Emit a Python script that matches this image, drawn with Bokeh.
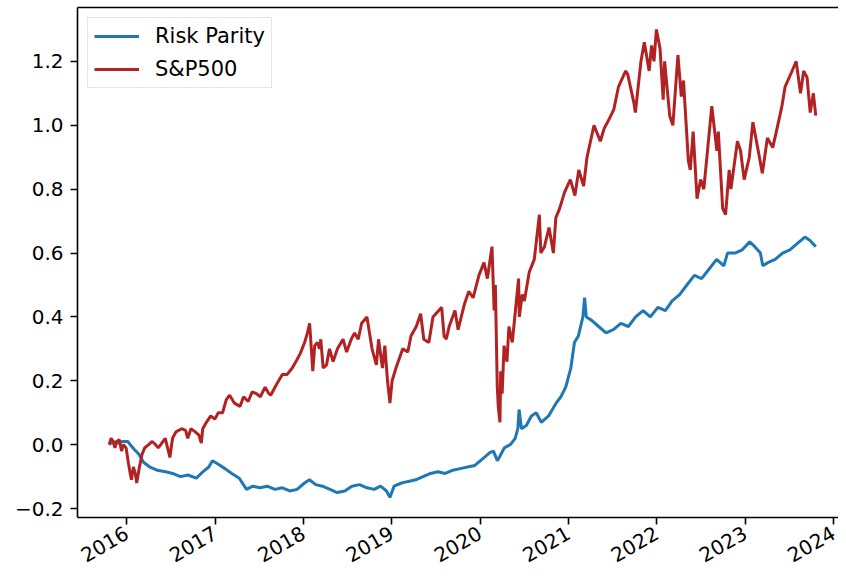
import math
import pandas as pd
from bokeh.plotting import figure
from bokeh.models import Range1d, FixedTicker, CustomJSTickFormatter, Legend, LegendItem, LinearAxis
from bokeh.embed import file_html
from bokeh.resources import INLINE

# ---------------- data ----------------
sp_dates = [
    "2015-10-20", "2015-10-28", "2015-11-05", "2015-11-13", "2015-11-20", "2015-12-01",
    "2015-12-10", "2015-12-18", "2015-12-29", "2016-01-08", "2016-01-15", "2016-01-20",
    "2016-01-28", "2016-02-05", "2016-02-11", "2016-02-22", "2016-03-04", "2016-03-15",
    "2016-03-31", "2016-04-15", "2016-04-29", "2016-05-10", "2016-05-20", "2016-06-08",
    "2016-06-24", "2016-06-27", "2016-07-08", "2016-07-22", "2016-08-15", "2016-08-31",
    "2016-09-09", "2016-09-22", "2016-10-10", "2016-10-25", "2016-11-04", "2016-11-10",
    "2016-11-25", "2016-12-13", "2016-12-30", "2017-01-13", "2017-01-31", "2017-02-15",
    "2017-03-01", "2017-03-21", "2017-04-13", "2017-04-28", "2017-05-17", "2017-06-02",
    "2017-06-20", "2017-07-06", "2017-07-26", "2017-08-10", "2017-08-18", "2017-09-12",
    "2017-10-05", "2017-10-25", "2017-11-15", "2017-12-04", "2017-12-18", "2018-01-05",
    "2018-01-17", "2018-01-26", "2018-02-08", "2018-02-16", "2018-02-27", "2018-03-08",
    "2018-03-13", "2018-03-23", "2018-04-06", "2018-04-18", "2018-05-03", "2018-05-21",
    "2018-06-13", "2018-06-28", "2018-07-17", "2018-07-31", "2018-08-15", "2018-08-29",
    "2018-09-20", "2018-10-11", "2018-10-29", "2018-11-07", "2018-11-23", "2018-12-03",
    "2018-12-14", "2018-12-24", "2019-01-02", "2019-01-18", "2019-02-15", "2019-03-08",
    "2019-03-21", "2019-04-12", "2019-04-30", "2019-05-13", "2019-06-03", "2019-06-20",
    "2019-07-26", "2019-08-05", "2019-08-14", "2019-08-26", "2019-09-19", "2019-10-02",
    "2019-10-28", "2019-11-15", "2019-12-03", "2019-12-27", "2020-01-17", "2020-01-31",
    "2020-02-19", "2020-02-28", "2020-03-04", "2020-03-12", "2020-03-16", "2020-03-23",
    "2020-03-26", "2020-04-01", "2020-04-09", "2020-04-21", "2020-04-29", "2020-05-13",
    "2020-06-08", "2020-06-11", "2020-06-23", "2020-07-02", "2020-07-22", "2020-08-12",
    "2020-09-02", "2020-09-08", "2020-09-23", "2020-10-12", "2020-10-30", "2020-11-09",
    "2020-11-25", "2020-12-15", "2021-01-08", "2021-01-27", "2021-02-12", "2021-03-04",
    "2021-03-18", "2021-04-16", "2021-05-12", "2021-05-28", "2021-06-18", "2021-07-07",
    "2021-07-26", "2021-08-25", "2021-09-02", "2021-09-28", "2021-10-04", "2021-10-27",
    "2021-11-10", "2021-11-30", "2021-12-10", "2021-12-20", "2021-12-30", "2022-01-14",
    "2022-01-27", "2022-02-02", "2022-02-23", "2022-03-08", "2022-03-29", "2022-04-12",
    "2022-04-21", "2022-05-11", "2022-05-19", "2022-05-31", "2022-06-16", "2022-07-01",
    "2022-07-14", "2022-08-16", "2022-09-06", "2022-09-12", "2022-09-30", "2022-10-12",
    "2022-10-27", "2022-11-03", "2022-11-30", "2022-12-13", "2022-12-28", "2023-01-18",
    "2023-02-02", "2023-02-24", "2023-03-13", "2023-04-03", "2023-04-25", "2023-05-10",
    "2023-06-02", "2023-06-15", "2023-07-14", "2023-07-31", "2023-08-18", "2023-08-31",
    "2023-09-14", "2023-09-27", "2023-10-10", "2023-10-20",
]
sp_values = [
    0.00, 0.02, 0.01, -0.01, 0.01, 0.015,
    -0.02, 0.00, -0.01, -0.06, -0.09, -0.11,
    -0.07, -0.09, -0.12, -0.07, -0.03, -0.01,
    0.00, 0.01, 0.00, -0.01, 0.00, 0.02,
    -0.03, -0.04, 0.02, 0.04, 0.05, 0.045,
    0.02, 0.05, 0.04, 0.03, 0.005, 0.05,
    0.07, 0.09, 0.08, 0.10, 0.10, 0.14,
    0.155, 0.13, 0.12, 0.15, 0.135, 0.165,
    0.16, 0.15, 0.18, 0.16, 0.155, 0.19,
    0.22, 0.22, 0.24, 0.265, 0.285, 0.32,
    0.35, 0.38, 0.23, 0.31, 0.32, 0.30,
    0.33, 0.24, 0.25, 0.30, 0.26, 0.30,
    0.33, 0.29, 0.33, 0.35, 0.33, 0.38,
    0.40, 0.30, 0.25, 0.33, 0.24, 0.31,
    0.20, 0.13, 0.20, 0.24, 0.30, 0.29,
    0.34, 0.37, 0.41, 0.33, 0.32, 0.40,
    0.43, 0.34, 0.33, 0.37, 0.42, 0.36,
    0.44, 0.48, 0.46, 0.53, 0.57, 0.52,
    0.62, 0.42, 0.50, 0.18, 0.12, 0.07,
    0.23, 0.16, 0.31, 0.26, 0.37, 0.32,
    0.52, 0.40, 0.47, 0.45, 0.54, 0.58,
    0.72, 0.60, 0.62, 0.68, 0.60, 0.71,
    0.74, 0.79, 0.83, 0.78, 0.86, 0.81,
    0.90, 1.00, 0.95, 0.99, 1.02, 1.05,
    1.12, 1.17, 1.16, 1.07, 1.04, 1.20,
    1.26, 1.17, 1.25, 1.20, 1.30, 1.24,
    1.08, 1.20, 1.03, 1.00, 1.22, 1.09,
    1.14, 0.89, 0.86, 0.98, 0.77, 0.83,
    0.80, 1.06, 0.92, 0.98, 0.74, 0.72,
    0.86, 0.80, 0.95, 0.92, 0.83, 0.90,
    1.01, 0.92, 0.85, 0.96, 0.93, 0.98,
    1.06, 1.12, 1.17, 1.20, 1.10, 1.17,
    1.15, 1.04, 1.10, 1.03,
]

rp_dates = [
    "2015-10-20", "2015-11-05", "2015-11-25", "2015-12-15", "2016-01-05", "2016-01-15",
    "2016-02-01", "2016-02-20", "2016-03-10", "2016-04-05", "2016-05-05", "2016-06-10",
    "2016-07-08", "2016-08-10", "2016-09-10", "2016-10-14", "2016-11-10", "2016-12-05",
    "2016-12-20", "2017-01-10", "2017-02-10", "2017-03-10", "2017-04-10", "2017-05-10",
    "2017-06-05", "2017-07-05", "2017-08-03", "2017-09-05", "2017-10-05", "2017-11-05",
    "2017-12-05", "2018-01-05", "2018-01-25", "2018-02-20", "2018-03-20", "2018-04-20",
    "2018-05-20", "2018-06-20", "2018-07-20", "2018-08-20", "2018-09-20", "2018-10-20",
    "2018-11-15", "2018-12-10", "2018-12-24", "2019-01-10", "2019-02-10", "2019-03-10",
    "2019-04-10", "2019-05-10", "2019-06-10", "2019-07-10", "2019-08-10", "2019-09-10",
    "2019-10-10", "2019-11-10", "2019-12-10", "2020-01-10", "2020-02-10", "2020-02-25",
    "2020-03-12", "2020-03-20", "2020-04-10", "2020-05-05", "2020-05-25", "2020-06-05",
    "2020-06-10", "2020-06-20", "2020-07-10", "2020-07-31", "2020-08-20", "2020-09-10",
    "2020-10-10", "2020-11-10", "2020-11-30", "2020-12-20", "2021-01-10", "2021-01-25",
    "2021-02-10", "2021-03-01", "2021-03-08", "2021-03-15", "2021-04-05", "2021-05-05",
    "2021-06-05", "2021-07-05", "2021-08-05", "2021-09-05", "2021-10-05", "2021-11-05",
    "2021-12-05", "2022-01-05", "2022-02-05", "2022-03-05", "2022-04-05", "2022-05-05",
    "2022-06-05", "2022-07-05", "2022-08-05", "2022-09-05", "2022-10-05", "2022-10-20",
    "2022-11-20", "2022-12-20", "2023-01-20", "2023-02-10", "2023-03-05", "2023-03-15",
    "2023-04-05", "2023-05-05", "2023-06-05", "2023-07-05", "2023-08-05", "2023-09-05",
    "2023-09-25", "2023-10-20",
]
rp_values = [
    0.00, 0.01, 0.005, 0.01, 0.01, 0.00,
    -0.015, -0.03, -0.055, -0.07, -0.08, -0.085,
    -0.09, -0.10, -0.095, -0.105, -0.085, -0.07,
    -0.05, -0.06, -0.075, -0.09, -0.105, -0.14,
    -0.13, -0.135, -0.13, -0.14, -0.135, -0.145,
    -0.14, -0.12, -0.11, -0.125, -0.13, -0.14,
    -0.15, -0.145, -0.13, -0.125, -0.135, -0.14,
    -0.13, -0.145, -0.165, -0.13, -0.12, -0.115,
    -0.11, -0.10, -0.09, -0.085, -0.09, -0.08,
    -0.075, -0.07, -0.065, -0.045, -0.025, -0.02,
    -0.05, -0.04, -0.01, 0.00, 0.02, 0.05,
    0.11, 0.05, 0.06, 0.09, 0.10, 0.07,
    0.09, 0.13, 0.15, 0.18, 0.24, 0.32,
    0.34, 0.40, 0.46, 0.40, 0.39, 0.37,
    0.35, 0.36, 0.38, 0.37, 0.40, 0.42,
    0.40, 0.43, 0.42, 0.45, 0.47, 0.50,
    0.53, 0.52, 0.55, 0.58, 0.56, 0.60,
    0.60, 0.61, 0.635, 0.62, 0.60, 0.56,
    0.57, 0.58, 0.60, 0.61, 0.63, 0.65,
    0.64, 0.62,
]

year_ticks = [2016, 2017, 2018, 2019, 2020, 2021, 2022, 2023, 2024]
y_ticks = [-0.2, 0.0, 0.2, 0.4, 0.6, 0.8, 1.0, 1.2]

# ---------------- figure ----------------
def ms(ts):
    return pd.Timestamp(ts).value / 1e6

x_start = ms("2015-06-11")
x_end = ms("2024-01-22")

p = figure(width=838, height=572, x_axis_type="datetime",
           x_range=Range1d(x_start, x_end), y_range=Range1d(-0.228, 1.36875),
           output_backend="svg", toolbar_location=None,
           min_border_left=77, min_border_right=0, min_border_top=7, min_border_bottom=54)

p.background_fill_color = "white"
p.border_fill_color = "white"
p.xgrid.visible = False
p.ygrid.visible = False
p.outline_line_color = None

xa = p.below[0]
ya = p.left[0]

for ax in (xa, ya):
    ax.axis_line_color = "black"
    ax.axis_line_width = 1.6
    ax.major_tick_line_color = "black"
    ax.major_tick_line_width = 1.6
    ax.major_tick_out = 7
    ax.major_tick_in = 0
    ax.minor_tick_line_color = None
    ax.major_label_text_font = "DejaVu Sans"
    ax.major_label_text_font_size = "20px"
    ax.major_label_text_color = "#000000"
    ax.major_label_standoff = 7

xa.ticker = FixedTicker(ticks=[ms(f"{y}-01-01") for y in year_ticks])
xa.formatter = CustomJSTickFormatter(code="return String(new Date(tick).getUTCFullYear());")
xa.major_label_orientation = math.pi / 6

ya.ticker = FixedTicker(ticks=y_ticks)
ya.formatter = CustomJSTickFormatter(
    code="return (tick < -1e-9 ? '\u2212' : '') + Math.abs(tick).toFixed(1);")

# top spine only (the right spine lies outside the visible area in the reference)
top_axis = LinearAxis(ticker=FixedTicker(ticks=[]),
                      axis_line_color="black", axis_line_width=1.6,
                      major_tick_line_color=None, minor_tick_line_color=None,
                      major_tick_out=0, major_tick_in=0, major_label_standoff=0)
p.add_layout(top_axis, "above")

r_rp = p.line(pd.to_datetime(rp_dates), rp_values, line_color="#1f77b4", line_width=3)
r_sp = p.line(pd.to_datetime(sp_dates), sp_values, line_color="#b22222", line_width=3)

legend = Legend(items=[LegendItem(label="Risk Parity", renderers=[r_rp]),
                       LegendItem(label="S&P500", renderers=[r_sp])],
                location="top_left")
legend.margin = 10
legend.padding = 6
legend.spacing = 9
legend.label_height = 22
legend.glyph_height = 22
legend.glyph_width = 45
legend.label_standoff = 16
legend.label_text_font = "DejaVu Sans"
legend.label_text_font_size = "21px"
legend.label_text_color = "#000000"
legend.border_line_color = "#cccccc"
legend.border_line_width = 1.3
legend.background_fill_color = "white"
legend.background_fill_alpha = 0.8
p.add_layout(legend)

open("out.html", "w").write(file_html(p, INLINE))
